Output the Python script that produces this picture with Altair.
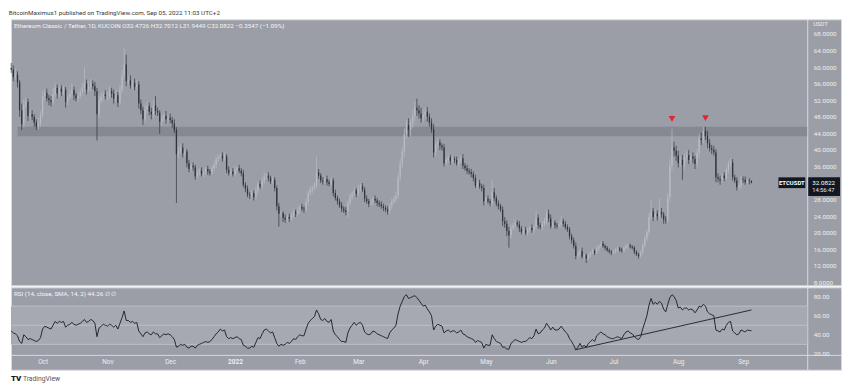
import altair as alt
import pandas as pd

# ---------------- layout / style ----------------
W = 836          # width of both panes (incl. price-scale column)
AX = 34          # width of price-scale column
HP = 268         # price pane height
HR = 83          # RSI pane + time strip height
STRIP = 15       # time strip height
FONT = "Roboto"
BG = "#9b9ea7"
BAND = "#a6a9b1"
BAND_LINE = "#bcbfc6"
BORDER = "#d9dbe0"
LABEL = "#eceef1"
UP = "#b9bcc3"
DN = "#30333a"
LINE = "#25272d"

# ---------------- data ----------------
first_open = 59.8
close_sep21 = [59.4, 57.6, 58.2, 56.3, 49.6, 46.2, 51.0, 51.6, 48.2, 48.6, 48.0, 46.6, 45.6, 46.4, 48.4]
close_oct = [53.0, 53.8, 52.5, 52.0, 51.5, 53.5, 55.0, 53.6, 54.8, 54.0, 54.6, 51.6, 52.8, 53.5, 54.5, 53.2,
             52.5, 53.0, 54.0, 55.0, 56.0, 54.6, 55.2, 56.0, 55.4, 54.2, 48.6, 52.0, 52.8, 53.4, 53.0]
close_nov = [53.0, 54.2, 53.6, 52.4, 53.2, 51.4, 54.6, 57.8, 60.6, 56.6, 56.8, 55.6, 56.2, 55.2, 55.8, 51.2,
             49.6, 47.4, 49.8, 50.6, 49.2, 48.6, 50.8, 49.4, 49.0, 46.8, 47.6, 48.2, 47.4, 47.8]
close_dec = [47.2, 46.4, 44.9, 39.0, 39.8, 40.6, 39.2, 39.6, 36.8, 35.4, 36.2, 35.8, 33.6, 34.6, 35.0, 34.2,
             34.6, 35.4, 34.8, 34.4, 35.6, 36.4, 37.8, 38.2, 38.6, 38.0, 38.4, 35.2, 34.4, 34.8, 34.2]
close_jan = [35.2, 35.6, 35.0, 34.4, 31.6, 30.6, 29.2, 29.0, 29.6, 28.6, 30.2, 31.8, 31.2, 32.6, 33.6, 33.8,
             33.2, 32.4, 32.8, 30.8, 26.4, 24.6, 24.8, 23.6, 23.2, 23.8, 23.4, 24.2, 25.0, 24.6, 25.4]
close_feb = [26.2, 25.8, 25.6, 27.4, 29.6, 30.4, 30.8, 31.4, 34.6, 33.8, 32.6, 32.4, 33.0, 32.2, 31.8, 32.6,
             29.6, 28.4, 27.6, 26.6, 25.8, 25.4, 25.0, 27.2, 28.6, 29.4, 30.2, 29.4]
close_mar = [30.8, 31.2, 30.4, 28.2, 27.6, 27.0, 27.4, 28.2, 27.8, 27.2, 26.8, 26.4, 26.0, 25.6, 25.2, 26.6,
             27.4, 28.2, 29.0, 33.4, 36.8, 39.6, 43.8, 46.0, 44.8, 46.4, 48.2, 50.2, 49.6, 48.8, 47.6]
close_apr = [48.4, 49.2, 48.0, 46.6, 45.0, 39.4, 41.4, 41.8, 41.0, 40.6, 36.8, 37.6, 38.2, 37.4, 37.8, 37.6,
             36.8, 37.4, 38.0, 36.2, 35.6, 35.0, 34.6, 34.2, 33.2, 31.4, 32.0, 31.2, 30.8, 27.6]
close_may = [28.2, 27.6, 27.2, 29.8, 28.4, 27.0, 26.4, 25.6, 22.8, 22.2, 20.4, 19.4, 21.2, 21.8, 22.4, 22.0,
             21.0, 20.2, 20.6, 20.0, 20.8, 21.2, 20.6, 21.4, 23.6, 21.8, 21.4, 22.2, 22.8, 24.6, 23.4]
close_jun = [21.6, 22.4, 21.8, 21.6, 22.0, 22.8, 22.2, 21.4, 20.8, 19.2, 18.2, 16.8, 14.4, 14.8, 15.6, 14.2,
             14.6, 13.8, 14.6, 15.2, 15.6, 15.2, 16.2, 16.8, 17.4, 16.8, 16.4, 15.8, 15.4, 15.2]
close_jul = [15.4, 15.8, 16.2, 15.8, 15.6, 16.4, 16.8, 17.0, 16.6, 16.4, 15.4, 14.8, 14.4, 15.2, 17.0, 18.6,
             20.2, 23.8, 25.2, 23.8, 24.6, 24.0, 25.0, 24.4, 23.2, 23.0, 28.6, 36.2, 40.6, 39.8, 38.6]
close_aug = [36.8, 37.6, 36.4, 38.2, 38.8, 37.6, 38.4, 37.8, 36.6, 39.2, 42.8, 42.4, 44.6, 43.4, 41.6, 40.4,
             40.0, 39.4, 33.4, 33.0, 32.6, 33.8, 33.2, 35.2, 36.6, 37.0, 33.4, 32.6, 31.0, 31.4, 33.0]
close_sep22 = [32.8, 32.2, 32.6, 32.4726, 32.0822]

# upper / lower wick beyond the body
up_sep21 = [1.2, 1.0, 1.4, 0.8, 0.6, 1.6, 1.2, 1.0, 0.8, 1.2, 1.0, 0.6, 0.8, 1.4, 1.0]
dn_sep21 = [0.8, 1.0, 0.6, 1.2, 1.6, 1.4, 0.8, 1.0, 1.2, 0.8, 0.8, 1.0, 0.8, 0.6, 0.8]
up_oct = [1.2, 0.8, 1.0, 0.8, 1.0, 1.4, 1.2, 0.8, 1.0, 0.8, 1.0, 0.6, 0.8, 1.0, 1.6, 0.8, 0.6, 1.0, 0.8, 1.2,
          4.0, 1.0, 1.4, 1.2, 0.8, 1.0, 0.8, 1.2, 1.0, 0.8, 1.0]
dn_oct = [0.6, 1.0, 0.8, 1.2, 1.0, 0.6, 0.8, 1.2, 0.8, 1.0, 0.8, 1.4, 0.8, 0.6, 1.0, 1.2, 0.8, 1.0, 0.6, 0.8,
          1.0, 1.2, 0.6, 1.0, 0.8, 1.2, 6.3, 1.0, 0.8, 1.0, 0.8]
up_nov = [1.0, 1.2, 0.8, 1.0, 1.4, 0.8, 1.0, 1.6, 4.2, 2.4, 1.0, 1.2, 0.8, 1.0, 1.2, 0.8, 1.0, 0.8, 1.2, 1.0,
          0.8, 1.0, 1.2, 2.2, 0.8, 0.6, 1.0, 0.8, 1.2, 0.8]
dn_nov = [1.0, 0.8, 1.0, 1.2, 0.8, 1.0, 0.6, 0.8, 1.0, 1.2, 1.0, 0.8, 1.0, 0.8, 0.6, 1.2, 1.0, 1.4, 0.8, 1.0,
          0.8, 1.2, 0.8, 1.0, 0.8, 2.9, 1.0, 0.8, 1.0, 0.8]
up_dec = [1.0, 0.8, 1.0, 0.6, 1.0, 0.8, 1.0, 0.8, 0.6, 0.8, 0.6, 0.8, 0.6, 0.8, 0.6, 0.8, 0.6, 0.4, 0.8, 0.6,
          0.6, 0.8, 0.6, 0.8, 0.6, 0.8, 1.0, 0.6, 0.8, 0.6, 0.8]
dn_dec = [0.8, 1.0, 0.8, 11.8, 1.0, 0.8, 1.0, 0.8, 1.0, 0.8, 0.6, 0.8, 0.8, 0.6, 0.8, 0.6, 0.8, 0.6, 0.8, 0.6,
          0.4, 0.6, 0.8, 0.6, 0.4, 0.8, 0.6, 0.8, 0.6, 0.8, 0.6]
up_jan = [0.8, 0.6, 0.8, 0.6, 0.8, 0.6, 0.8, 0.6, 0.8, 0.6, 0.8, 0.6, 0.8, 0.8, 1.0, 0.6, 0.8, 0.6, 0.8, 0.6,
          0.6, 0.8, 0.6, 0.4, 0.8, 0.6, 0.8, 0.6, 0.8, 0.6, 0.8]
dn_jan = [0.6, 0.8, 0.6, 0.8, 0.6, 0.8, 0.6, 0.8, 0.6, 0.8, 0.6, 0.8, 0.6, 0.6, 0.8, 0.6, 0.8, 0.6, 0.6, 0.8,
          1.0, 3.1, 0.8, 1.0, 0.8, 0.6, 0.8, 0.6, 0.6, 0.8, 0.6]
up_feb = [0.6, 0.8, 0.6, 0.8, 0.6, 0.8, 0.6, 0.8, 3.8, 0.8, 0.6, 0.8, 0.6, 0.8, 0.6, 0.8, 0.6, 0.8, 0.6, 0.6,
          0.8, 0.6, 0.8, 0.6, 0.8, 0.6, 0.8, 0.6]
dn_feb = [0.8, 0.6, 0.8, 0.6, 0.8, 0.6, 0.8, 0.6, 0.6, 0.8, 0.6, 0.8, 0.6, 0.8, 0.6, 0.6, 0.8, 0.6, 0.8, 0.6,
          0.8, 0.6, 0.8, 1.4, 0.6, 0.8, 0.6, 0.8]
up_mar = [0.8, 0.6, 0.8, 0.6, 0.8, 0.6, 0.8, 0.6, 0.8, 0.6, 0.6, 0.8, 0.6, 0.6, 0.8, 0.6, 0.8, 0.6, 0.8, 1.0,
          1.2, 1.0, 1.4, 1.2, 1.6, 1.2, 1.4, 1.6, 2.2, 1.2, 1.4]
dn_mar = [0.6, 0.8, 0.6, 0.8, 0.6, 0.8, 0.6, 0.8, 0.6, 0.8, 0.6, 0.6, 0.8, 0.6, 0.8, 0.6, 0.8, 0.6, 0.8, 0.8,
          1.0, 1.2, 1.4, 1.2, 1.6, 1.4, 1.0, 1.2, 1.4, 1.2, 1.0]
up_apr = [1.4, 1.0, 1.2, 0.8, 1.0, 1.2, 0.8, 1.0, 0.8, 0.6, 0.8, 0.6, 0.8, 0.6, 0.8, 0.6, 0.8, 0.6, 0.8, 1.0,
          0.6, 0.8, 0.6, 0.8, 0.6, 0.8, 0.6, 0.8, 0.6, 0.8]
dn_apr = [1.0, 0.8, 1.2, 1.0, 0.8, 1.2, 1.0, 0.8, 1.0, 0.8, 0.8, 0.6, 0.8, 1.0, 0.6, 0.8, 0.6, 0.8, 0.6, 0.8,
          0.6, 0.8, 0.6, 0.8, 0.8, 0.6, 0.8, 0.6, 0.8, 1.0]
up_may = [0.6, 0.8, 0.6, 3.0, 1.0, 0.6, 0.8, 0.6, 0.8, 1.0, 0.8, 1.0, 0.8, 0.6, 0.8, 0.6, 0.8, 0.6, 0.6, 0.8,
          0.6, 0.6, 0.8, 0.6, 1.8, 0.8, 0.6, 0.6, 0.8, 0.8, 1.0]
dn_may = [0.8, 0.6, 0.8, 0.6, 0.8, 0.6, 0.8, 0.6, 1.2, 1.0, 1.2, 3.0, 0.8, 0.6, 0.8, 0.6, 0.8, 0.6, 0.8, 0.6,
          0.8, 0.6, 0.6, 0.8, 0.6, 0.8, 0.6, 0.8, 0.6, 0.8, 0.8]
up_jun = [1.0, 0.8, 0.6, 0.6, 0.8, 1.2, 0.6, 0.6, 0.6, 0.6, 0.6, 0.6, 0.8, 0.8, 0.6, 0.8, 0.4, 0.4, 0.6, 0.4,
          0.6, 0.4, 0.6, 0.4, 0.6, 0.6, 0.4, 0.4, 0.4, 0.4]
dn_jun = [0.6, 0.6, 0.8, 0.6, 0.6, 0.6, 0.8, 0.6, 0.6, 0.8, 0.8, 0.6, 0.8, 0.8, 0.6, 0.4, 0.6, 1.1, 0.4, 0.6,
          0.4, 0.6, 0.4, 0.6, 0.4, 0.4, 0.6, 0.4, 0.4, 0.6]
up_jul = [0.4, 0.6, 0.4, 0.4, 0.6, 0.4, 0.6, 0.4, 0.4, 0.4, 0.4, 0.4, 0.4, 0.6, 0.6, 0.8, 0.6, 1.0, 2.7, 0.8,
          1.0, 0.8, 3.3, 1.0, 0.6, 0.8, 1.0, 1.6, 4.5, 1.4, 1.2]
dn_jul = [0.4, 0.4, 0.6, 0.4, 0.4, 0.4, 0.4, 0.6, 0.4, 0.4, 0.6, 0.4, 0.6, 0.4, 0.4, 0.6, 0.6, 0.8, 0.8, 1.0,
          0.8, 1.0, 0.8, 0.8, 1.0, 0.8, 0.6, 1.0, 1.2, 1.4, 1.2]
up_aug = [1.2, 1.0, 1.2, 0.8, 1.0, 1.2, 0.8, 1.0, 0.8, 1.0, 1.2, 1.4, 1.0, 1.0, 1.2, 1.0, 0.8, 1.0, 0.8, 1.0,
          0.8, 0.6, 0.8, 0.6, 0.8, 0.9, 0.8, 0.6, 0.8, 0.6, 0.8]
dn_aug = [1.0, 0.8, 3.6, 1.0, 0.8, 1.0, 0.8, 1.0, 1.2, 0.8, 1.0, 1.2, 0.8, 1.0, 1.2, 0.8, 1.0, 0.8, 1.2, 0.8,
          1.0, 0.6, 0.8, 0.6, 0.8, 0.6, 0.8, 0.6, 0.8, 0.6, 0.8]
up_sep22 = [0.6, 0.8, 0.4, 0.6, 0.2286]
dn_sep22 = [0.8, 0.6, 0.6, 0.8, 0.1373]

rsi_sep21 = [44, 42, 41, 39, 33, 31, 40, 38, 35, 36, 35, 34, 33, 34, 37]
rsi_oct = [46, 49, 48, 47, 46, 50, 54, 52, 54, 53, 54, 48, 50, 51, 53, 51, 50, 51, 52, 54, 56, 53, 54, 56, 55,
           52, 38, 47, 49, 51, 50]
rsi_nov = [49, 51, 50, 48, 50, 46, 52, 58, 65, 55, 55, 53, 54, 52, 53, 44, 41, 38, 42, 43, 41, 40, 43, 41, 41,
           37, 39, 41, 40, 41]
rsi_dec = [40, 38, 35, 27, 28, 30, 29, 30, 27, 26, 28, 28, 26, 29, 30, 31, 32, 33, 32, 33, 35, 38, 41, 43, 46,
           44, 45, 38, 36, 37, 36]
rsi_jan = [37, 38, 36, 35, 29, 28, 26, 26, 28, 27, 32, 37, 36, 41, 45, 46, 44, 42, 43, 37, 31, 28, 30, 29, 30,
           32, 31, 33, 36, 35, 38]
rsi_feb = [40, 39, 39, 46, 52, 55, 57, 59, 66, 62, 56, 55, 57, 54, 53, 56, 44, 40, 38, 35, 33, 33, 32, 42, 47,
           50, 53, 50]
rsi_mar = [52, 53, 50, 43, 41, 40, 41, 44, 43, 41, 40, 39, 38, 37, 36, 42, 45, 47, 50, 62, 70, 75, 80, 82, 78,
           79, 80, 81, 79, 76, 73]
rsi_apr = [70, 71, 67, 64, 60, 45, 49, 51, 50, 49, 42, 44, 45, 43, 44, 44, 42, 43, 45, 41, 40, 38, 37, 36, 35,
           32, 34, 33, 32, 26]
rsi_may = [30, 29, 29, 40, 36, 33, 32, 31, 27, 27, 25, 25, 31, 33, 35, 34, 33, 32, 33, 33, 35, 37, 36, 39, 46,
           41, 42, 45, 47, 52, 49]
rsi_jun = [45, 48, 45, 45, 46, 49, 46, 43, 41, 36, 33, 29, 24, 27, 31, 27, 29, 27, 31, 33, 35, 33, 39, 41, 43,
           41, 40, 38, 37, 36]
rsi_jul = [36, 37, 38, 37, 36, 40, 43, 44, 42, 41, 38, 36, 35, 38, 46, 53, 60, 71, 78, 72, 74, 72, 75, 73, 67,
           64, 72, 79, 82, 80, 76]
rsi_aug = [68, 69, 66, 68, 68, 66, 67, 66, 63, 66, 70, 69, 72, 70, 64, 62, 61, 60, 45, 44, 43, 46, 45, 50, 53,
           54, 44, 42, 40, 41, 45]
rsi_sep22 = [44, 43, 45, 44.5, 44.26]

trend_dates = ["2022-06-13T00:00:00", "2022-09-05T00:00:00"]
trend_values = [24.4, 66.0]

marker_dates = ["2022-07-29T00:00:00", "2022-08-14T00:00:00"]
marker_prices = [47.5, 47.7]

zone_start = "2021-09-19T00:00:00"
zone_low, zone_high = 43.3, 45.6

price_ticks = [8, 12, 16, 20, 24, 28, 32, 36, 40, 44, 48, 52, 56, 60, 64, 68]
rsi_ticks = [20, 40, 60, 80]
rsi_band = [30, 70]
rsi_lines = [30, 50, 70]
month_ticks = [(2021, 10), (2021, 11), (2021, 12), (2022, 1), (2022, 2), (2022, 3), (2022, 4),
               (2022, 5), (2022, 6), (2022, 7), (2022, 8), (2022, 9)]

header = "BitcoinMaximus1 published on TradingView.com, Sep 05, 2022 11:03 UTC+2"
legend_main = "Ethereum Classic / Tether, 1D, KUCOIN  O32.4726  H32.7012  L31.9449  C32.0822  \u22120.3547 (\u22121.09%)"
legend_rsi = "RSI (14, close, SMA, 14, 2)   44.26   \u2205   \u2205"
symbol = "ETCUSDT"
clock = "14:56:47"

# ---------------- assemble ----------------
def cat(*parts):
    return [v for p in parts for v in p]

closes = cat(close_sep21, close_oct, close_nov, close_dec, close_jan, close_feb, close_mar,
             close_apr, close_may, close_jun, close_jul, close_aug, close_sep22)
ups = cat(up_sep21, up_oct, up_nov, up_dec, up_jan, up_feb, up_mar, up_apr, up_may, up_jun,
          up_jul, up_aug, up_sep22)
dns = cat(dn_sep21, dn_oct, dn_nov, dn_dec, dn_jan, dn_feb, dn_mar, dn_apr, dn_may, dn_jun,
          dn_jul, dn_aug, dn_sep22)
rsis = cat(rsi_sep21, rsi_oct, rsi_nov, rsi_dec, rsi_jan, rsi_feb, rsi_mar, rsi_apr, rsi_may,
           rsi_jun, rsi_jul, rsi_aug, rsi_sep22)
n = len(closes)
assert len(ups) == n and len(dns) == n and len(rsis) == n, (n, len(ups), len(dns), len(rsis))

dates = pd.date_range("2021-09-16", periods=n, freq="D").strftime("%Y-%m-%dT%H:%M:%S")
opens = [first_open] + closes[:-1]
candles = pd.DataFrame({
    "date": dates,
    "open": opens,
    "close": closes,
    "high": [max(o, c) + u for o, c, u in zip(opens, closes, ups)],
    "low": [min(o, c) - d for o, c, d in zip(opens, closes, dns)],
    "rsi": rsis,
})
last = closes[-1]

# ---------------- scales & axes ----------------
xscale = alt.Scale(domain=[alt.DateTime(year=2021, month=9, date=15, hours=21),
                           alt.DateTime(year=2022, month=10, date=17, hours=20)])
pscale = alt.Scale(domain=[7.3, 71.55], zero=False, nice=False)
R_TOP, R_SEP = 89.7, 18.97
R_BOT = R_SEP - STRIP * (R_TOP - R_SEP) / (HR - STRIP)
rscale = alt.Scale(domain=[R_BOT, R_TOP], zero=False, nice=False)

paxis = alt.Axis(orient="right", offset=-AX, values=price_ticks, format=".4f", ticks=False, grid=False,
                 domainColor=BORDER, domainWidth=1, labelColor=LABEL, labelFont=FONT, labelFontSize=6.3,
                 labelPadding=6, title=None, labelOverlap=False)
raxis = alt.Axis(orient="right", offset=-AX, values=rsi_ticks, format=".2f", ticks=False, grid=False,
                 domainColor=BORDER, domainWidth=1, labelColor=LABEL, labelFont=FONT, labelFontSize=6.3,
                 labelPadding=6, title=None, labelOverlap=False)
taxis = alt.Axis(values=[alt.DateTime(year=y, month=m, date=1) for y, m in month_ticks],
                 labelExpr="month(datum.value) == 0 ? '2022' : timeFormat(datum.value, '%b')",
                 labelFontWeight=alt.expr("month(datum.value) == 0 ? 'bold' : 'normal'"),
                 ticks=False, grid=False, domainColor=BORDER, domainWidth=1, labelColor=LABEL,
                 labelFont=FONT, labelFontSize=6.5, labelPadding=4, offset=-STRIP, title=None,
                 labelOverlap=False, labelFlush=False)

X = alt.X("date:T", scale=xscale, axis=None)
candle_color = alt.condition("datum.close >= datum.open", alt.value(UP), alt.value(DN))

# ---------------- price pane ----------------
zone = alt.Chart(pd.DataFrame({"start": [zone_start], "lo": [zone_low], "hi": [zone_high]})).mark_rect(
    color="#5d606b", opacity=0.35).encode(
    x=alt.X("start:T", scale=xscale, axis=None), x2=alt.value(W - AX),
    y=alt.Y("lo:Q", scale=pscale, axis=paxis), y2="hi:Q")

wicks = alt.Chart(candles).mark_rule(strokeWidth=0.7).encode(
    x=X, y=alt.Y("low:Q", scale=pscale, axis=paxis), y2="high:Q", color=candle_color)
bodies = alt.Chart(candles).mark_rule(strokeWidth=1.3).encode(
    x=X, y=alt.Y("open:Q", scale=pscale, axis=paxis), y2="close:Q", color=candle_color)

markers = alt.Chart(pd.DataFrame({"date": marker_dates, "p": marker_prices})).mark_point(
    shape="triangle-down", filled=True, color="#e3262e", opacity=1, size=45).encode(
    x=X, y=alt.Y("p:Q", scale=pscale, axis=paxis))

tag = pd.DataFrame({"p": [last], "top": [last + 1.3], "bot": [last - 1.3], "low2": [last - 3.2],
                    "sym": [symbol], "clock": [clock]})
sym_rect = alt.Chart(tag).mark_rect(color="#131722").encode(
    x=alt.value(W - AX - 29), x2=alt.value(W - AX - 2),
    y=alt.Y("top:Q", scale=pscale, axis=paxis), y2="bot:Q")
sym_text = alt.Chart(tag).mark_text(color="#ffffff", font=FONT, fontSize=6, fontWeight="bold",
                                    align="center", baseline="middle").encode(
    x=alt.value(W - AX - 15.5), y=alt.Y("p:Q", scale=pscale, axis=paxis), text="sym:N")
ptag_rect = alt.Chart(tag).mark_rect(color="#131722").encode(
    x=alt.value(W - AX + 1), x2=alt.value(W - 1),
    y=alt.Y("top:Q", scale=pscale, axis=paxis), y2="low2:Q")
ptag_text = alt.Chart(tag).mark_text(color="#ffffff", font=FONT, fontSize=6.3, align="left",
                                     baseline="middle").encode(
    x=alt.value(W - AX + 5), y=alt.Y("p:Q", scale=pscale, axis=paxis), text=alt.Text("p:Q", format=".4f"))
clock_text = alt.Chart(tag).mark_text(color="#e6e8ec", font=FONT, fontSize=5.8, align="left",
                                      baseline="middle", dy=7.5).encode(
    x=alt.value(W - AX + 5), y=alt.Y("p:Q", scale=pscale, axis=paxis), text="clock:N")

legend = alt.Chart(pd.DataFrame({"t": [legend_main]})).mark_text(
    color="#f4f5f7", font=FONT, fontSize=6.3, align="left", baseline="middle").encode(
    x=alt.value(3), y=alt.value(7), text="t:N")
usdt = alt.Chart(pd.DataFrame({"t": ["USDT"]})).mark_text(
    color=LABEL, font=FONT, fontSize=6, align="left", baseline="middle").encode(
    x=alt.value(W - AX + 6), y=alt.value(5), text="t:N")

price = alt.layer(zone, wicks, bodies, markers, sym_rect, sym_text, ptag_rect, ptag_text, clock_text,
                  legend, usdt).properties(width=W, height=HP)

# ---------------- RSI pane ----------------
band = alt.Chart(pd.DataFrame({"lo": [rsi_band[0]], "hi": [rsi_band[1]]})).mark_rect(color=BAND).encode(
    x=alt.value(0), x2=alt.value(W - AX), y=alt.Y("lo:Q", scale=rscale, axis=raxis), y2="hi:Q")
band_lines = alt.Chart(pd.DataFrame({"v": rsi_lines})).mark_rule(color=BAND_LINE, strokeWidth=1).encode(
    x=alt.value(0), x2=alt.value(W - AX), y=alt.Y("v:Q", scale=rscale, axis=raxis))
rsi_line = alt.Chart(candles).mark_line(color=LINE, strokeWidth=1).encode(
    x=alt.X("date:T", scale=xscale, axis=taxis), y=alt.Y("rsi:Q", scale=rscale, axis=raxis))
trend = alt.Chart(pd.DataFrame({"date": trend_dates, "v": trend_values})).mark_line(
    color="#2a2c33", strokeWidth=1).encode(
    x=alt.X("date:T", scale=xscale, axis=taxis), y=alt.Y("v:Q", scale=rscale, axis=raxis))
rsi_legend = alt.Chart(pd.DataFrame({"t": [legend_rsi]})).mark_text(
    color="#f4f5f7", font=FONT, fontSize=6.3, align="left", baseline="middle").encode(
    x=alt.value(3), y=alt.value(7), text="t:N")
logo_icon = alt.Chart(pd.DataFrame({"t": ["TV"]})).mark_text(
    color="#131722", font=FONT, fontSize=8, fontWeight=900, align="left", baseline="middle").encode(
    x=alt.value(0), y=alt.value(HR + 9), text="t:N")
logo_text = alt.Chart(pd.DataFrame({"t": ["TradingView"]})).mark_text(
    color="#50535e", font=FONT, fontSize=6.8, align="left", baseline="middle").encode(
    x=alt.value(12), y=alt.value(HR + 9), text="t:N")

rsi = alt.layer(band, band_lines, rsi_line, trend, rsi_legend, logo_icon, logo_text).properties(
    width=W, height=HR)

chart = alt.vconcat(price, rsi, spacing=0).resolve_scale(y="independent").properties(
    title=alt.TitleParams(text=header, anchor="start", fontSize=6.3, font=FONT, color="#3a3a3a",
                          fontWeight="normal", offset=3),
    padding={"left": 0, "top": 0, "right": 0, "bottom": 0},
    background="white",
).configure_view(fill=BG, stroke=BORDER, strokeWidth=1)

chart.save("out.html", embed_options={"renderer": "svg", "actions": False})
